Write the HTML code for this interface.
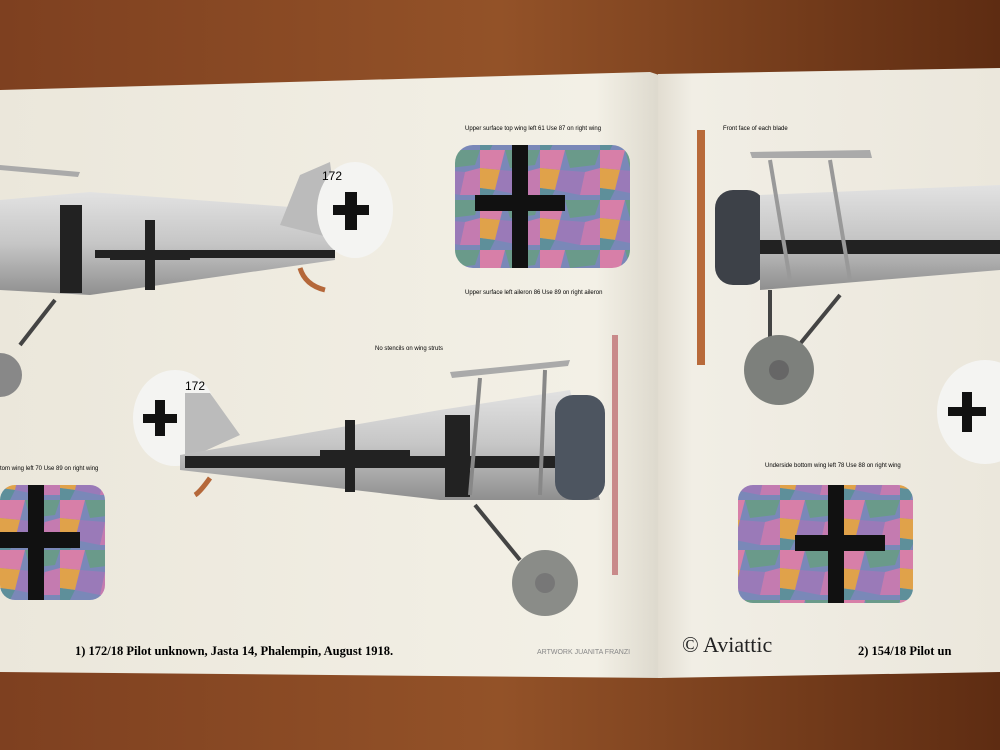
<!DOCTYPE html>
<html><head><meta charset="utf-8"><style>
html,body{margin:0;padding:0;width:1000px;height:750px;overflow:hidden;background:#7a3f1c}
svg{display:block}
.s{font-family:"Liberation Sans",sans-serif}
.r{font-family:"Liberation Serif",serif}
</style></head><body>
<svg width="1000" height="750" viewBox="0 0 1000 750" xmlns="http://www.w3.org/2000/svg">
<defs>
<linearGradient id="wood" x1="0" y1="0" x2="1" y2="0"><stop offset="0" stop-color="#7e4020"/><stop offset="0.5" stop-color="#935228"/><stop offset="1" stop-color="#5e2c12"/></linearGradient>
<linearGradient id="pg" x1="0" y1="0" x2="1" y2="0"><stop offset="0" stop-color="#ebe7db"/><stop offset="0.9" stop-color="#f3f0e6"/><stop offset="1" stop-color="#dcd8cc"/></linearGradient>
<linearGradient id="pg2" x1="0" y1="0" x2="1" y2="0"><stop offset="0" stop-color="#e2ddd1"/><stop offset="0.1" stop-color="#f1eee5"/><stop offset="1" stop-color="#ebe7dc"/></linearGradient>
<linearGradient id="fus" x1="0" y1="0" x2="0" y2="1"><stop offset="0" stop-color="#e2e2e2"/><stop offset="0.5" stop-color="#c6c6c6"/><stop offset="1" stop-color="#8f8f8f"/></linearGradient>
<pattern id="loz" width="60" height="50" patternUnits="userSpaceOnUse">
<rect width="60" height="50" fill="#7a88b8"/>
<polygon points="0,0 25,0 20,20 0,18" fill="#d77fa8"/>
<polygon points="25,0 60,0 55,15 30,18" fill="#6a9a8a"/>
<polygon points="0,18 20,20 15,40 0,38" fill="#e0a24a"/>
<polygon points="20,20 45,22 40,45 15,40" fill="#9a7ab8"/>
<polygon points="45,22 60,18 60,45 40,45" fill="#c47bb0"/>
<polygon points="0,38 15,40 10,50 0,50" fill="#5e8f9a"/>
</pattern>
</defs>
<rect width="1000" height="750" fill="url(#wood)"/>
<polygon points="0,90 650,72 662,76 662,678 0,672" fill="url(#pg)"/>
<polygon points="658,74 1000,68 1000,672 658,678" fill="url(#pg2)"/>

<polygon points="0,200 90,192 330,210 335,260 90,295 0,290" fill="url(#fus)"/>
<rect x="60" y="205" width="22" height="88" fill="#222"/>
<polygon points="280,225 300,175 330,162 340,240" fill="#bbb"/>
<ellipse cx="355" cy="210" rx="38" ry="48" fill="#f4f4f2"/>
<rect x="345" y="192" width="12" height="38" fill="#111"/><rect x="333" y="205" width="36" height="10" fill="#111"/>
<text class="s" x="322" y="180" font-size="12">172</text>
<rect x="95" y="250" width="240" height="8" fill="#222"/>
<rect x="145" y="220" width="10" height="70" fill="#222"/><rect x="110" y="250" width="80" height="10" fill="#222"/>
<polygon points="0,165 80,172 78,177 0,170" fill="#aaa"/>
<path d="M300 268 Q305 285 325 290" stroke="#b5683a" stroke-width="5" fill="none"/>
<line x1="20" y1="345" x2="55" y2="300" stroke="#444" stroke-width="4"/>
<circle cx="0" cy="375" r="22" fill="#888"/>
<rect x="455" y="145" width="175" height="123" rx="18" fill="url(#loz)"/>
<rect x="512" y="145" width="16" height="123" fill="#111"/><rect x="475" y="195" width="90" height="16" fill="#111"/>
<text class="s" x="465" y="130" font-size="6">Upper surface top wing left  61  Use  87  on right wing</text>
<text class="s" x="465" y="294" font-size="6">Upper surface left aileron  86  Use  89  on right aileron</text>

<ellipse cx="175" cy="418" rx="42" ry="48" fill="#f4f4f2"/>
<rect x="155" y="400" width="10" height="36" fill="#111"/><rect x="143" y="414" width="34" height="9" fill="#111"/>
<text class="s" x="185" y="390" font-size="12">172</text>
<polygon points="185,393 210,393 240,435 185,460" fill="#bbb"/>
<polygon points="180,455 440,410 570,390 600,500 440,500 180,470" fill="url(#fus)"/>
<rect x="185" y="456" width="400" height="12" fill="#222"/>
<rect x="445" y="415" width="25" height="82" fill="#222"/>
<rect x="345" y="420" width="10" height="72" fill="#222"/><rect x="320" y="450" width="90" height="10" fill="#222"/>
<rect x="555" y="395" width="50" height="105" rx="18" fill="#4d5560"/>
<rect x="612" y="335" width="6" height="240" fill="#c98a8a"/>
<polygon points="450,372 570,360 568,366 452,378" fill="#aaa"/>
<line x1="480" y1="378" x2="470" y2="495" stroke="#888" stroke-width="4"/>
<line x1="545" y1="370" x2="540" y2="495" stroke="#888" stroke-width="4"/>
<line x1="475" y1="505" x2="520" y2="560" stroke="#444" stroke-width="4"/>
<circle cx="545" cy="583" r="33" fill="#8a8c88"/><circle cx="545" cy="583" r="10" fill="#777"/>
<path d="M210 478 Q200 492 195 495" stroke="#b5683a" stroke-width="5" fill="none"/>
<text class="s" x="375" y="350" font-size="6">No stencils on wing struts</text>
<rect x="0" y="485" width="105" height="115" rx="15" fill="url(#loz)"/>
<rect x="28" y="485" width="16" height="115" fill="#111"/><rect x="0" y="532" width="80" height="16" fill="#111"/>
<text class="s" x="0" y="470" font-size="6">tom wing left  70  Use  89  on right wing</text>

<rect x="697" y="130" width="8" height="235" fill="#b86a3a"/>
<rect x="715" y="190" width="50" height="95" rx="18" fill="#3d4148"/>
<polygon points="760,195 1000,185 1000,270 760,290" fill="url(#fus)"/>
<rect x="760" y="240" width="240" height="14" fill="#222"/>
<polygon points="750,152 870,150 872,158 752,158" fill="#aaa"/>
<line x1="770" y1="160" x2="790" y2="280" stroke="#999" stroke-width="4"/>
<line x1="830" y1="160" x2="850" y2="280" stroke="#999" stroke-width="4"/>
<line x1="770" y1="290" x2="770" y2="340" stroke="#444" stroke-width="4"/>
<line x1="840" y1="295" x2="795" y2="350" stroke="#444" stroke-width="4"/>
<circle cx="779" cy="370" r="35" fill="#7d807c"/><circle cx="779" cy="370" r="10" fill="#666"/>
<ellipse cx="985" cy="412" rx="48" ry="52" fill="#f4f4f2"/>
<rect x="962" y="392" width="10" height="40" fill="#111"/><rect x="948" y="407" width="38" height="9" fill="#111"/>
<rect x="738" y="485" width="175" height="118" rx="15" fill="url(#loz)"/>
<rect x="828" y="485" width="16" height="118" fill="#111"/><rect x="795" y="535" width="90" height="16" fill="#111"/>
<text class="s" x="765" y="467" font-size="6">Underside bottom wing left  78  Use  88  on right wing</text>
<text class="s" x="723" y="130" font-size="6">Front face of each blade</text>

<text class="r" x="75" y="655" font-weight="bold" font-size="12.5">1) 172/18  Pilot unknown, Jasta 14, Phalempin, August 1918.</text>
<text class="s" x="537" y="654" font-size="7" fill="#888">ARTWORK JUANITA FRANZI</text>
<text class="r" x="682" y="652" font-size="22" fill="#222">© Aviattic</text>
<text class="r" x="858" y="655" font-weight="bold" font-size="12.5">2) 154/18  Pilot un</text>
</svg>
</body></html>
